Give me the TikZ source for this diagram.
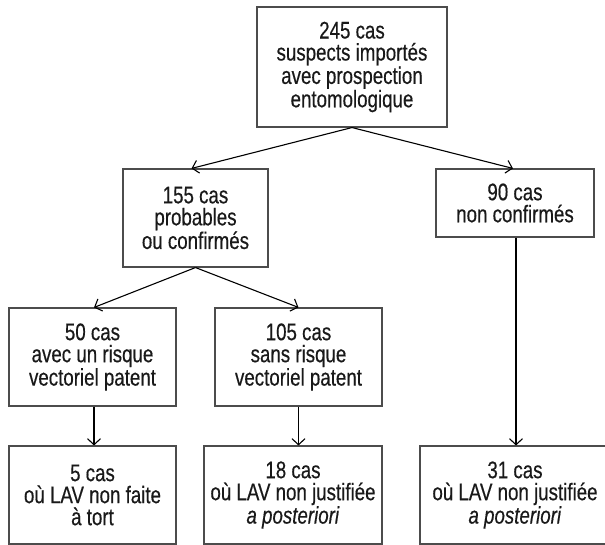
\documentclass[tikz,border=0pt]{standalone}
\usepackage{fontspec}
\setmainfont{Liberation Sans}[FakeStretch=0.78,FakeBold=0.4]
\usetikzlibrary{arrows.meta}
\newcommand\casfont{\fontsize{24}{22}\selectfont}

\begin{document}
\begin{tikzpicture}[x=1pt,y=-1pt,
box/.style={draw=black!70,line width=1.1pt,align=center,inner sep=0pt,
  font=\casfont,text=black!90},
fleche/.style={line width=1.1pt,-{Straight Barb[length=6pt,width=13pt]}}]
\useasboundingbox (0,0) rectangle (605,545);
\node[box,minimum width=190pt,minimum height=120pt] (cas245) at (352,67)
  {245 cas\\suspects importés\\avec prospection\\entomologique};
\node[box,minimum width=145pt,minimum height=98pt] (cas155) at (195.5,218)
  {155 cas\\probables\\ou confirmés};
\node[box,minimum width=158pt,minimum height=68pt] (cas90) at (515,203)
  {90 cas\\non confirmés};
\node[box,minimum width=167pt,minimum height=98pt] (cas50) at (92.5,357)
  {50 cas\\avec un risque\\vectoriel patent};
\node[box,minimum width=167pt,minimum height=98pt] (cas105) at (298.5,357)
  {105 cas\\sans risque\\vectoriel patent};
\node[box,minimum width=167pt,minimum height=98pt] (cas5) at (92.5,495)
  {5 cas\\où LAV non faite\\à tort};
\node[box,minimum width=178pt,minimum height=98pt] (cas18) at (293,495)
  {18 cas\\où LAV non justifiée\\\textit{a posteriori}};
\node[box,minimum width=190pt,minimum height=98pt] (cas31) at (515,495)
  {31 cas\\où LAV non justifiée\\\textit{a posteriori}};
\draw[fleche] (cas245.south) -- ([xshift=-4pt]cas155.north);
\draw[fleche] (cas245.south) -- ([xshift=-2pt]cas90.north);
\draw[fleche] (cas155.south) -- ([xshift=1.5pt]cas50.north);
\draw[fleche] (cas155.south) -- (cas105.north);
\draw[fleche] ([xshift=1.5pt]cas50.south) -- ([xshift=1.5pt]cas50.south |- cas5.north);
\draw[fleche] (cas105.south) -- (cas105.south |- cas18.north);
\draw[fleche] ([xshift=1pt]cas90.south) -- ([xshift=1pt]cas90.south |- cas31.north);
\end{tikzpicture}
\end{document}
